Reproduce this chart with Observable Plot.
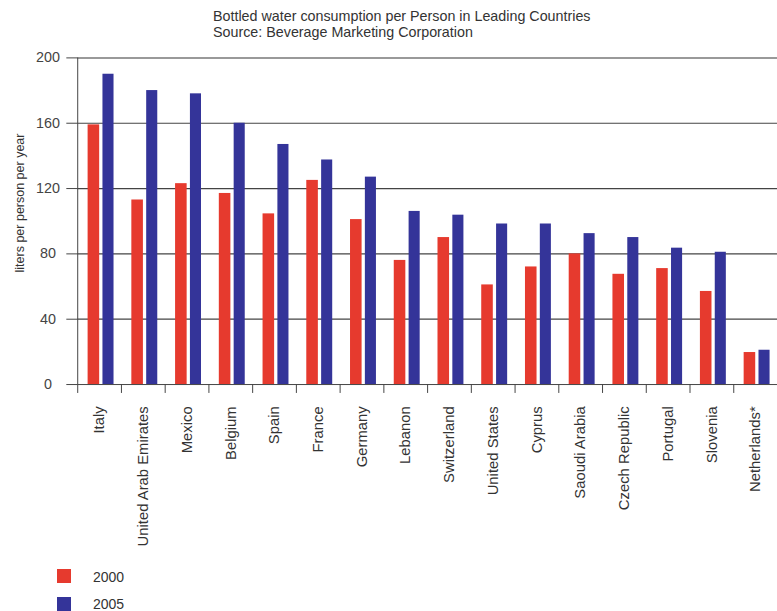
<!DOCTYPE html>
<html>
<head>
<meta charset="utf-8">
<script src="https://cdn.jsdelivr.net/npm/d3@7"></script>
<script src="https://cdn.jsdelivr.net/npm/@observablehq/plot@0.6"></script>
<style>
  html, body { margin: 0; padding: 0; background: #fff; }
  body { width: 777px; height: 611px; overflow: hidden; position: relative; font-family: "Liberation Sans", Arial, sans-serif; color: #333; }
  #title { position: absolute; top: 8px; left: 213px; font-size: 14.3px; line-height: 16px; color: #333; white-space: nowrap; }
  #chart { position: absolute; top: 0; left: 0; }
  #ylab { position: absolute; left: 20px; top: 202.5px; transform: translate(-50%, -50%) rotate(-90deg); font-size: 12.5px; line-height: 14px; white-space: nowrap; color: #333; }
  .lg { position: absolute; left: 57px; width: 14px; height: 14px; }
  .lgt { position: absolute; left: 93px; font-size: 14px; line-height: 14px; color: #333; }
</style>
</head>
<body>
<div id="title">Bottled water consumption per Person in Leading Countries<br>Source: Beverage Marketing Corporation</div>
<div id="chart"></div>
<div id="ylab">liters per person per year</div>
<div class="lg" style="top:569px;background:#e63a2e"></div>
<div class="lgt" style="top:569.5px">2000</div>
<div class="lg" style="top:597px;background:#343499"></div>
<div class="lgt" style="top:596.5px">2005</div>
<script>
const countries = ["Italy", "United Arab Emirates", "Mexico", "Belgium", "Spain", "France", "Germany", "Lebanon", "Switzerland", "United States", "Cyprus", "Saoudi Arabia", "Czech Republic", "Portugal", "Slovenia", "Netherlands*"];
const v2000 = [159, 113, 123, 117, 104.5, 125, 101, 76, 90, 61, 72, 80, 67.5, 71, 57, 19.6];
const v2005 = [190, 180, 178, 160, 147, 137.5, 127, 106, 103.7, 98.3, 98.3, 92.4, 90, 83.5, 81, 21];
const yTicks = [0, 40, 80, 120, 160, 200];
const years = ["2000", "2005"];
const colors = ["#e63a2e", "#343499"];

const rows = countries.map((c, i) => ({i, country: c, a: v2000[i], b: v2005[i]}));

const plot = Plot.plot({
  width: 785,
  height: 560,
  marginTop: 58,
  marginBottom: 172,
  marginLeft: 78,
  marginRight: 0,
  style: {fontFamily: "'Liberation Sans', Arial, sans-serif", fontSize: "13px", color: "#333", background: "transparent"},
  x: {type: "linear", domain: [0, countries.length], axis: null},
  y: {domain: [0, 200], axis: null},
  marks: [
    Plot.ruleY(yTicks.filter(d => d > 0 && d < 200), {stroke: "#444", strokeWidth: 1.2}),
    Plot.ruleY([200], {stroke: "#999", strokeWidth: 2}),
    Plot.rectY(rows, {x1: "i", x2: d => d.i + 1, y: "a", fill: colors[0], insetLeft: 10.5, insetRight: 22}),
    Plot.rectY(rows, {x1: "i", x2: d => d.i + 1, y: "b", fill: colors[1], insetLeft: 25.5, insetRight: 7.5}),
    Plot.ruleY([0], {stroke: "#444", strokeWidth: 1}),
    Plot.ruleX([0], {y1: 0, y2: 200, stroke: "#444", strokeWidth: 1}),
    Plot.axisY(yTicks, {anchor: "left", tickSize: 11, tickPadding: 19, textAnchor: "middle", label: null, stroke: "#444", fill: "#444", fontSize: 14.5}),
    Plot.axisX(d3.range(0, countries.length), {anchor: "bottom", tickSize: 9, tickFormat: () => "", label: null, stroke: "#444"}),
    Plot.axisX(countries.map((c, i) => i + 0.5), {anchor: "bottom", tickSize: 0, tickPadding: 22, tickRotate: -90, tickFormat: d => countries[Math.round(d - 0.5)], label: null, fontSize: 15, fill: "#333"})
  ]
});
document.getElementById("chart").appendChild(plot);
</script>
</body>
</html>
